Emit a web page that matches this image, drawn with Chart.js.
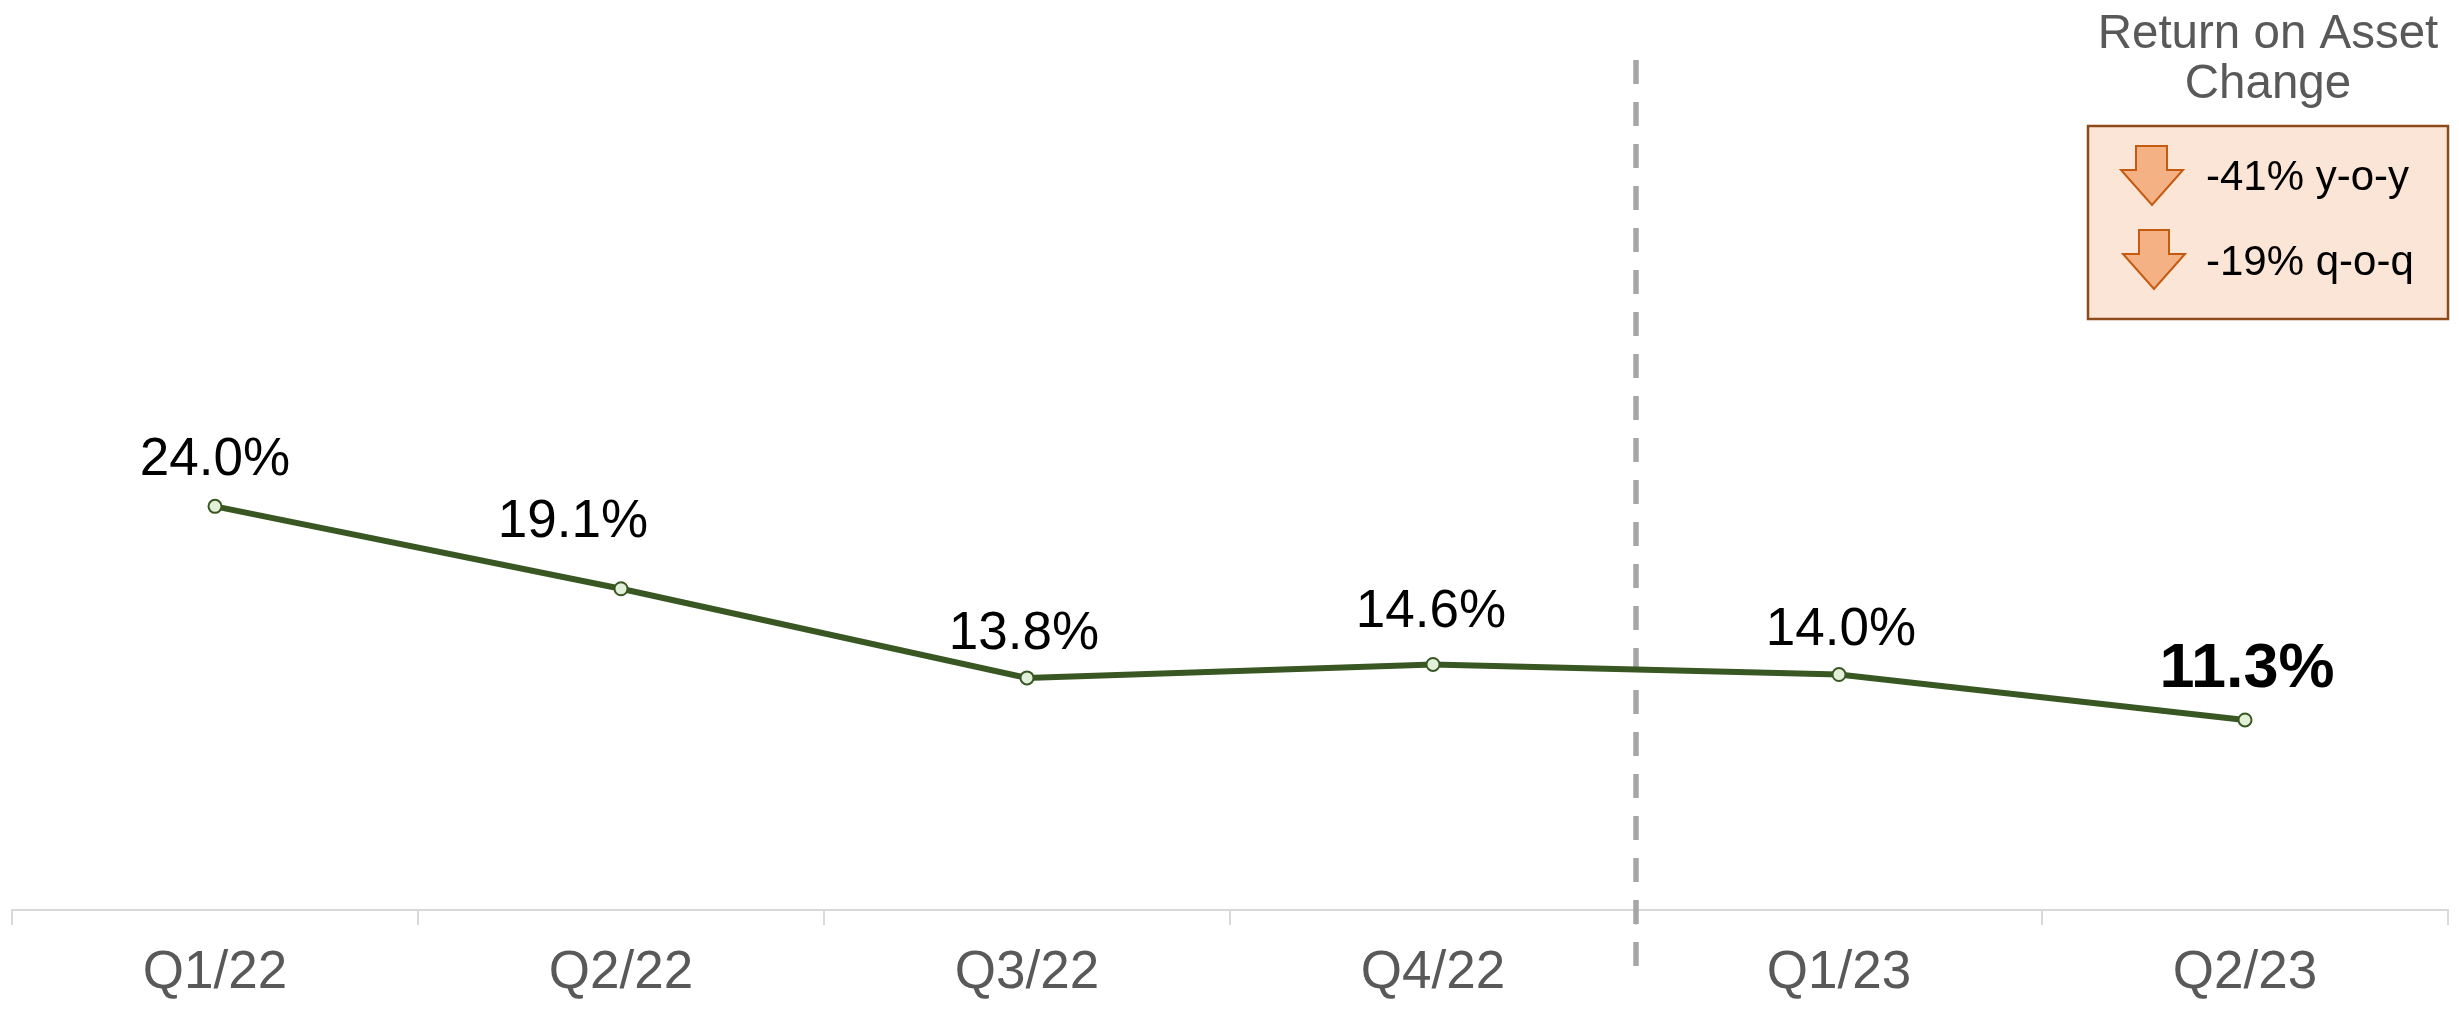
<!DOCTYPE html>
<html>
<head>
<meta charset="utf-8">
<style>html,body{margin:0;padding:0;background:#fff}canvas{display:block}</style>
<script src="https://cdn.jsdelivr.net/npm/chart.js@4"></script>
</head>
<body>
<canvas id="c" width="2459" height="1009"></canvas>
<script>
const categories = ["Q1/22","Q2/22","Q3/22","Q4/22","Q1/23","Q2/23"];
const roaValues = [24.0,19.1,13.8,14.6,14.0,11.3];
const valueLabels = ["24.0%","19.1%","13.8%","14.6%","14.0%","11.3%"];
const boldLabelIndex = 5;
const labelDx = [0,-48,-3,-2,2,2];
const labelDy = [-31,-52,-29,-37,-30,-33];
const titleLines = ["Return on Asset","Change"];
const changeLines = ["-41% y-o-y","-19% q-o-q"];
const FONT = '"Liberation Sans", Arial, sans-serif';

function arrow(ctx,l,r,t,b,sl,sr,hy){
  ctx.beginPath();
  ctx.moveTo(sl,t);ctx.lineTo(sr,t);ctx.lineTo(sr,hy);ctx.lineTo(r,hy);
  ctx.lineTo((l+r)/2,b);ctx.lineTo(l,hy);ctx.lineTo(sl,hy);ctx.closePath();
  ctx.fillStyle='#f4b183';ctx.fill();
  ctx.strokeStyle='#c55a11';ctx.lineWidth=2;ctx.stroke();
}

const overlay = {
  id:'overlay',
  beforeDatasetsDraw(chart){
    const ctx=chart.ctx,x=chart.scales.x.getPixelForValue(3.5);
    ctx.save();
    ctx.strokeStyle='#a6a6a6';ctx.lineWidth=5.5;ctx.setLineDash([24,18]);
    ctx.beginPath();ctx.moveTo(x,60);ctx.lineTo(x,967);ctx.stroke();
    ctx.restore();
  },
  afterDatasetsDraw(chart){
    const ctx=chart.ctx,sx=chart.scales.x,sy=chart.scales.y;
    ctx.save();
    ctx.textBaseline='alphabetic';
    ctx.textAlign='center';
    roaValues.forEach((v,i)=>{
      const bold=i===boldLabelIndex;
      ctx.font=(bold?'bold 63px ':'53px ')+FONT;
      ctx.fillStyle='#000';
      ctx.fillText(valueLabels[i],sx.getPixelForValue(i)+labelDx[i],sy.getPixelForValue(v)+labelDy[i]);
    });
    ctx.fillStyle='#595959';
    ctx.font='47.5px '+FONT;
    ctx.fillText(titleLines[0],2268,48);
    ctx.fillText(titleLines[1],2268,98);
    ctx.fillStyle='#fbe5d6';ctx.fillRect(2088,126,360,193);
    ctx.strokeStyle='#8f4a1c';ctx.lineWidth=2.5;ctx.strokeRect(2088,126,360,193);
    arrow(ctx,2121,2183,146,205,2136,2167,170);
    arrow(ctx,2123,2185,230,289,2139,2169,254);
    ctx.fillStyle='#000';ctx.textAlign='left';ctx.font='42px '+FONT;
    ctx.fillText(changeLines[0],2206,190);
    ctx.fillText(changeLines[1],2206,275);
    ctx.restore();
  }
};

new Chart(document.getElementById('c'),{
  type:'line',
  data:{labels:categories,datasets:[{
    data:roaValues,borderColor:'#385723',borderWidth:6,tension:0,
    pointRadius:6.5,pointBackgroundColor:'#e2f0d9',pointBorderColor:'#385723',pointBorderWidth:2
  }]},
  options:{
    responsive:false,animation:false,devicePixelRatio:1,
    layout:{padding:{left:12,right:11,top:0,bottom:0}},
    plugins:{legend:{display:false},title:{display:false},tooltip:{enabled:false}},
    scales:{
      y:{display:false,min:0,max:53.6},
      x:{
        offset:true,
        afterFit(s){s.height=99;},
        border:{color:'#d9d9d9',width:2},
        grid:{offset:true,drawOnChartArea:false,drawTicks:true,tickLength:15,color:'#d9d9d9',lineWidth:2},
        ticks:{color:'#595959',padding:17,maxRotation:0,autoSkip:false,font:{family:FONT,size:53}}
      }
    }
  },
  plugins:[overlay]
});
</script>
</body>
</html>
